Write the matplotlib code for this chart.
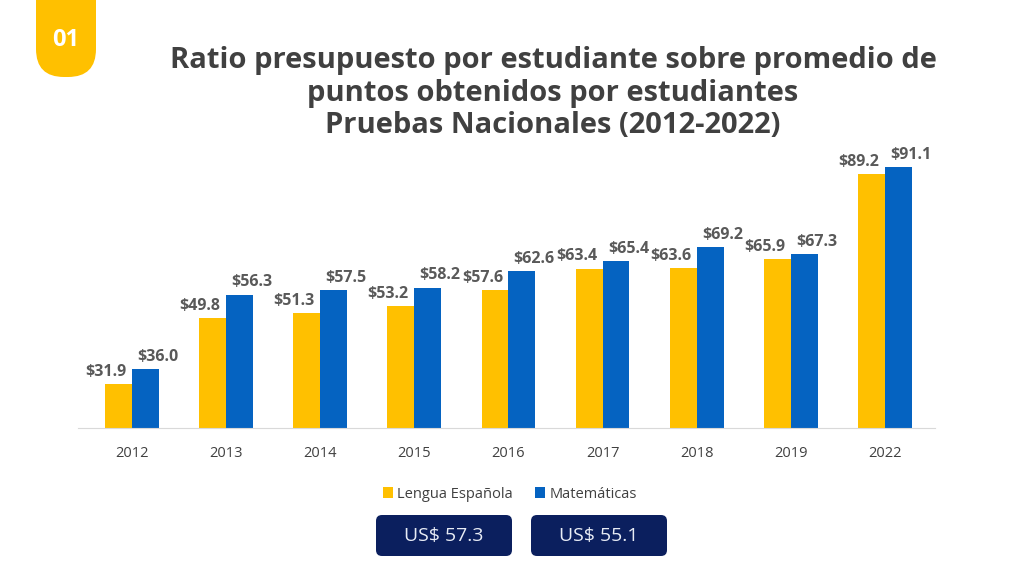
import numpy as np
import matplotlib.pyplot as plt
from matplotlib.patches import FancyBboxPatch

plt.rcParams['font.family'] = ['Open Sans', 'DejaVu Sans']

# datos
anios = ['2012', '2013', '2014', '2015', '2016', '2017', '2018', '2019', '2022']
lengua = [31.9, 49.8, 51.3, 53.2, 57.6, 63.4, 63.6, 65.9, 89.2]
matematicas = [36.0, 56.3, 57.5, 58.2, 62.6, 65.4, 69.2, 67.3, 91.1]
promedios = ['US$ 57.3', 'US$ 55.1']

amarillo = '#FFC000'
azul = '#0563C1'
gris = '#404040'

fig = plt.figure(figsize=(10.24, 5.66), dpi=100)

# capa de fondo en pixeles para el titulo, la insignia y las cajas
fondo = fig.add_axes([0, 0, 1, 1])
fondo.set_xlim(0, 1024)
fondo.set_ylim(566, 0)
fondo.axis('off')

fondo.add_patch(FancyBboxPatch((36, -40), 60, 117,
                               boxstyle='round,pad=0,rounding_size=28',
                               fc=amarillo, ec='none'))
fondo.text(66, 40, '01', color='white', fontsize=17, fontweight='bold',
           ha='center', va='center')

titulo = ('Ratio presupuesto por estudiante sobre promedio de\n'
          'puntos obtenidos por estudiantes\n'
          'Pruebas Nacionales (2012-2022)')
fondo.text(553, 93, titulo, color=gris, fontsize=21, fontweight='bold',
           ha='center', va='center', linespacing=1.18)

for x0, txt in zip([376, 531], promedios):
    fondo.add_patch(FancyBboxPatch((x0, 515), 136, 41,
                                   boxstyle='round,pad=0,rounding_size=6',
                                   fc='#0B1F5E', ec='none'))
    fondo.text(x0 + 68, 536, txt, color='#E8ECF5', fontsize=14,
               ha='center', va='center')

# grafico de barras
ax = fig.add_axes([78 / 1024, 1 - 428 / 566, 857 / 1024, 294 / 566])
x = np.arange(len(anios))
w = 0.285
b1 = ax.bar(x - w / 2, lengua, w, color=amarillo, label='Lengua Española')
b2 = ax.bar(x + w / 2, matematicas, w, color=azul, label='Matemáticas')

ax.set_ylim(20, 100)
ax.set_xlim(-0.57, 8.53)
ax.set_xticks(x)
ax.set_xticklabels(anios, color=gris, fontsize=10.5)
ax.tick_params(axis='x', length=0, pad=13)
ax.set_yticks([])
for s in ['top', 'right', 'left']:
    ax.spines[s].set_visible(False)
ax.spines['bottom'].set_color('#D9D9D9')
ax.patch.set_alpha(0)

for xi, v in zip(x, lengua):
    ax.annotate(f'${v:.1f}', (xi - w / 2, v), xytext=(-9, 3),
                textcoords='offset points', ha='center', va='bottom',
                fontsize=11.5, fontweight='bold', color='#595959')
for xi, v in zip(x, matematicas):
    ax.annotate(f'${v:.1f}', (xi + w / 2, v), xytext=(9, 3),
                textcoords='offset points', ha='center', va='bottom',
                fontsize=11.5, fontweight='bold', color='#595959')

leg = fig.legend(handles=[b1, b2], loc='center', bbox_to_anchor=(510 / 1024, 1 - 494 / 566),
                 ncol=2, frameon=False, fontsize=10.5, handlelength=0.7, handleheight=0.7,
                 handletextpad=0.3, columnspacing=1.5)
for t in leg.get_texts():
    t.set_color(gris)

fig.savefig('out.png', dpi=100)
